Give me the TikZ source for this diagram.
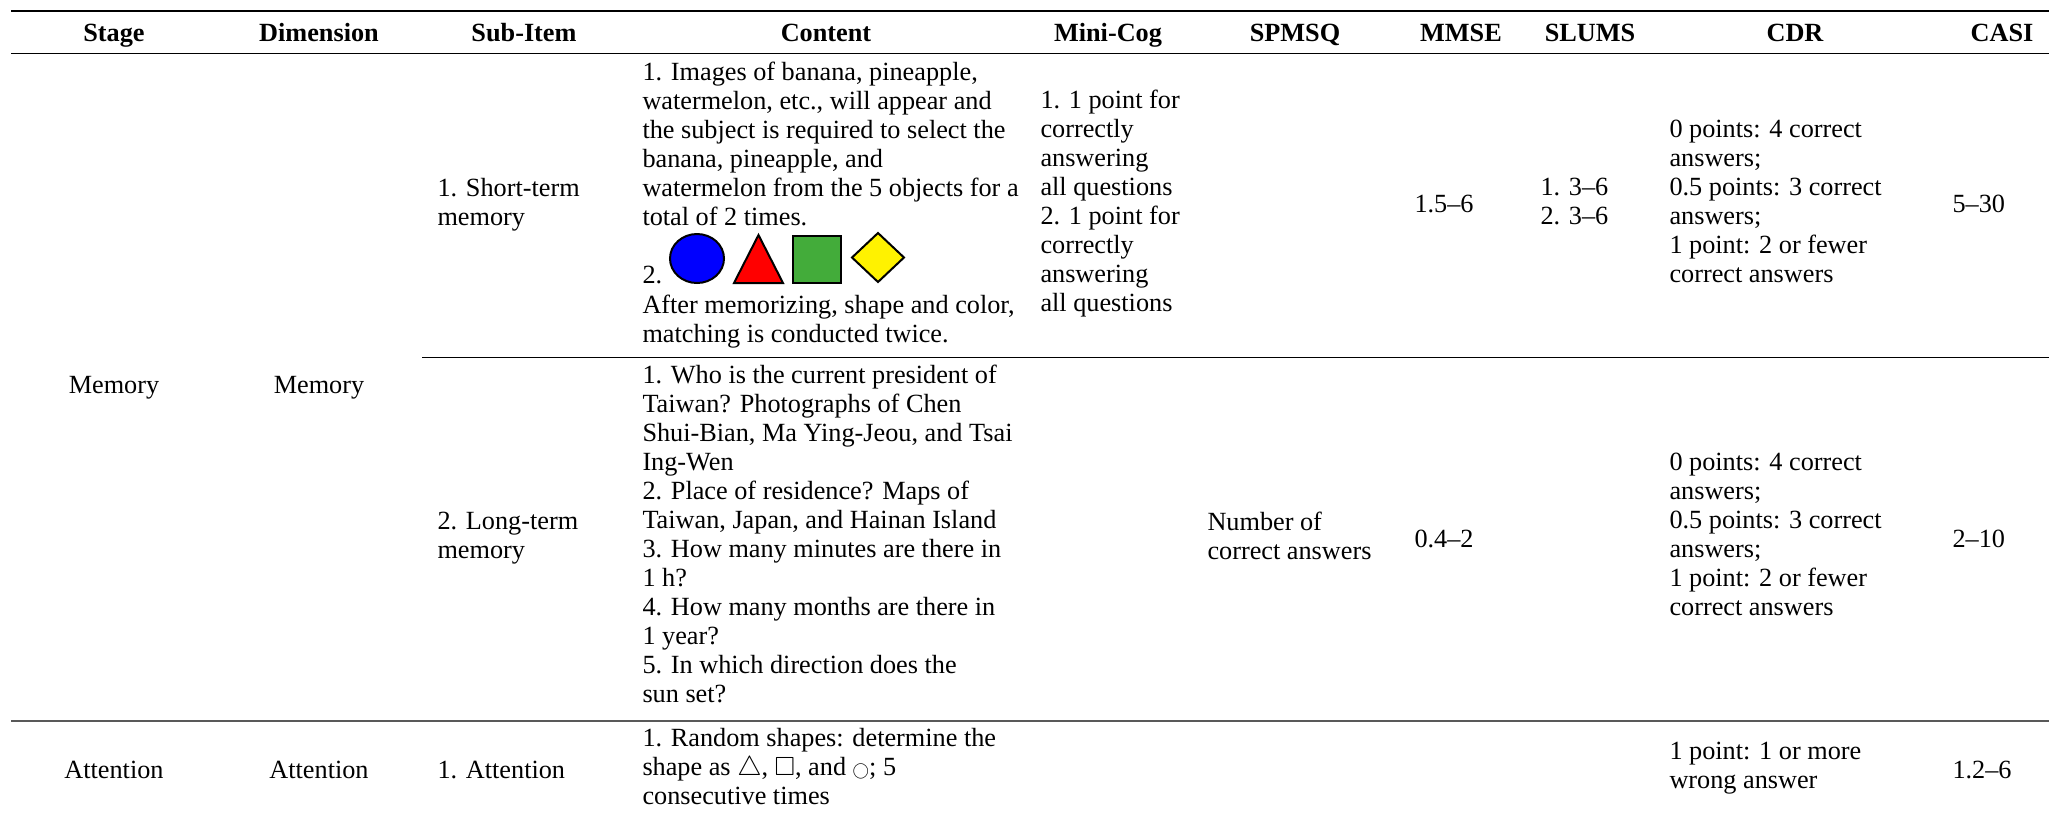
\documentclass[tikz,border=0pt]{standalone}
\usepackage{fontspec}
\setmainfont{Liberation Serif}
\usepackage{amssymb}
\usepackage{graphicx}
\definecolor{shapegreen}{RGB}{67,172,58}
\newcommand\tabfont{\fontsize{10.5pt}{11.6pt}\selectfont}
\tikzset{
  head/.style={anchor=base, inner sep=0pt, font=\tabfont\bfseries},
  mid/.style={anchor=base, inner sep=0pt},
  one/.style={anchor=base west, inner sep=0pt},
  cell/.style={anchor=north west, inner sep=0pt, align=left, yshift=8.12pt, execute at begin node=\strut},
  figshape/.style={draw=black, line width=0.8pt},
}
\begin{document}
\begin{tikzpicture}[x=0.4pt, y=-0.4pt, font=\tabfont]
\useasboundingbox (0,0) rectangle (2049,816);
% rules
\draw[line width=0.8pt] (11,11) -- (2049,11);
\draw[line width=0.4pt] (11,53) -- (2049,53);
\draw[line width=0.4pt] (422,357) -- (2049,357);
\draw[line width=0.6pt, black!65] (11,721) -- (2049,721);
% header
\node[head] (hstage) at (114,41) {Stage};
\node[head] (hdim) at (319,41) {Dimension};
\node[head] (hsub) at (524,41) {Sub-Item};
\node[head] (hcont) at (826,41) {Content};
\node[head] (hmini) at (1108,41) {Mini-Cog};
\node[head] (hspmsq) at (1295,41) {SPMSQ};
\node[head] (hmmse) at (1461,41) {MMSE};
\node[head] (hslums) at (1590,41) {SLUMS};
\node[head] (hcdr) at (1795,41) {CDR};
\node[head] (hcasi) at (2002,41) {CASI};
% memory
\node[mid] (memstage) at (114,393) {Memory};
\node[mid] (memdim) at (319,393) {Memory};
\node[cell] (shortsub) at (437,198) {1. Short-term\\memory};
\node[cell] (shortcont) at (642,82) {1. Images of banana, pineapple,\\watermelon, etc., will appear and\\the subject is required to select the\\banana, pineapple, and\\watermelon from the 5 objects for a\\total of 2 times.};
\node[one] (shorttwo) at (642,283) {2.};
\draw[figshape, fill=blue] (697,258.5) ellipse [x radius=27, y radius=24.5];
\draw[figshape, fill=red] (734,283) -- (783,283) -- (758.5,235) -- cycle;
\draw[figshape, fill=shapegreen] (793,236) rectangle (841,283);
\draw[figshape, fill=yellow] (852,257.5) -- (878,233) -- (904,257.5) -- (878,282) -- cycle;
\node[cell] (shortafter) at (642,315) {After memorizing, shape and color,\\matching is conducted twice.};
\node[cell] (shortmini) at (1040,110) {1. 1 point for\\correctly\\answering\\all questions\\2. 1 point for\\correctly\\answering\\all questions};
\node[one] (shortmmse) at (1414,212) {1.5--6};
\node[cell] (shortslums) at (1540,198) {1. 3--6\\2. 3--6};
\node[cell] (shortcdr) at (1669,140) {0 points: 4 correct\\answers;\\0.5 points: 3 correct\\answers;\\1 point: 2 or fewer\\correct answers};
\node[one] (shortcasi) at (1952,212) {5--30};
\node[cell] (longsub) at (437,532) {2. Long-term\\memory};
\node[cell] (longcont) at (642,385) {1. Who is the current president of\\Taiwan? Photographs of Chen\\Shui-Bian, Ma Ying-Jeou, and Tsai\\Ing-Wen\\2. Place of residence? Maps of\\Taiwan, Japan, and Hainan Island\\3. How many minutes are there in\\1 h?\\4. How many months are there in\\1 year?\\5. In which direction does the\\sun set?};
\node[cell] (longspmsq) at (1207,532) {Number of\\correct answers};
\node[one] (longmmse) at (1414,547) {0.4--2};
\node[cell] (longcdr) at (1669,473) {0 points: 4 correct\\answers;\\0.5 points: 3 correct\\answers;\\1 point: 2 or fewer\\correct answers};
\node[one] (longcasi) at (1952,547) {2--10};
% attention
\node[mid] (attstage) at (114,778) {Attention};
\node[mid] (attdim) at (319,778) {Attention};
\node[one] (attsub) at (437,778) {1. Attention};
\node[cell] (attcont) at (642,748) {1. Random shapes: determine the\\shape as $\triangle$, $\square$, and \scalebox{0.6}{$\bigcirc$}; 5\\consecutive times};
\node[cell] (attcdr) at (1669,762) {1 point: 1 or more\\wrong answer};
\node[one] (attcasi) at (1952,778) {1.2--6};
\end{tikzpicture}
\end{document}
